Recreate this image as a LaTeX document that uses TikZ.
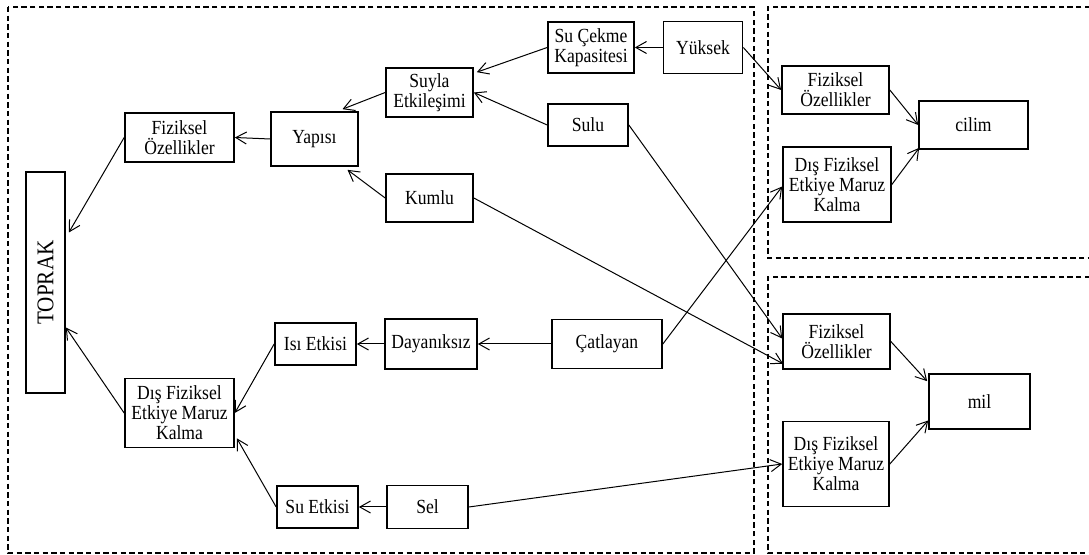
\documentclass[tikz,border=0pt]{standalone}
\usepackage{fontspec}
\setmainfont{Liberation Serif}
\newfontfamily\boxfont[FakeStretch=0.88]{Liberation Serif}
\usetikzlibrary{arrows.meta,calc}
\begin{document}
\begin{tikzpicture}[x=0.75pt,y=-0.75pt,
  wh/.style 2 args={minimum width=#1*0.75pt, minimum height=#2*0.75pt},
  box/.style={draw, line width=1.25pt, inner sep=0pt, align=center,
    font=\boxfont\fontsize{15}{15}\selectfont},
  link/.style={line width=0.75pt, -{Straight Barb[length=8pt,width=9pt]}},
  region/.style={line width=0.9pt, dash pattern=on 4pt off 2.5pt}]
\useasboundingbox (0,0) rectangle (1089,555);

% dashed regions
\draw[region] (8,7) rectangle (754,553);
\draw[region] (1090,7) -- (768,7) -- (768,258) -- (1090,258);
\draw[region] (1090,277) -- (768,277) -- (768,553) -- (1090,553);

% left region
\node[box, wh={39}{221}] (toprak) at (45.5,282.5)
  {\fontsize{18}{18}\selectfont\rotatebox{90}{TOPRAK}};
\node[box, wh={109}{49}] (fo1) at (179.5,137.5) {Fiziksel\\Özellikler};
\node[box, wh={87}{54}] (yap) at (314.5,139) {Yapısı};
\node[box, wh={87}{49}] (suy) at (429.5,92.5) {Suyla\\Etkileşimi};
\node[box, wh={87}{48}] (kum) at (429.5,198) {Kumlu};
\node[box, wh={86}{51}] (sce) at (591,47.5) {Su Çekme\\Kapasitesi};
\node[box, wh={79}{52}] (yuk) at (703,47.5) {Yüksek};
\node[box, wh={80}{42}] (sulu) at (588,125) {Sulu};

\node[box, wh={109}{69}] (dis1) at (179.5,413) {Dış Fiziksel\\Etkiye Maruz\\Kalma};
\node[box, wh={81}{42}] (isi) at (315.5,344) {Isı Etkisi};
\node[box, wh={92}{50}] (day) at (431,344) {Dayanıksız};
\node[box, wh={110}{49}] (cat) at (607,344) {Çatlayan};
\node[box, wh={81}{42}] (sue) at (317.5,507) {Su Etkisi};
\node[box, wh={81}{43}] (sel) at (427.5,507) {Sel};

% upper right region
\node[box, wh={107}{48}] (fo2) at (835.5,90) {Fiziksel\\Özellikler};
\node[box, wh={108}{75}] (dis2) at (837,184.5) {Dış Fiziksel\\Etkiye Maruz\\Kalma};
\node[box, wh={109}{48}] (cil) at (973.5,125) {cilim};

% lower right region
\node[box, wh={107}{55}] (fo3) at (836.5,341.5) {Fiziksel\\Özellikler};
\node[box, wh={106}{85}] (dis3) at (836,464) {Dış Fiziksel\\Etkiye Maruz\\Kalma};
\node[box, wh={101}{55}] (mil) at (979.5,401.5) {mil};

% connectors
\draw[link] (fo1.west) -- ($(toprak.east)+(3,-50)$);
\draw[link] (yap.west) -- (fo1.east);
\draw[link] (suy.west) -- ($(yap.north)+(28,-2)$);
\draw[link] (sce.west) -- ($(suy.north east)+(3,5)$);
\draw[link] (sulu.west) -- (suy.east);
\draw[link] (kum.west) -- ($(yap.south)+(33,3)$);
\draw[link] (yuk.west) -- (sce.east);
\draw[link] (yuk.east) -- (fo2.west);
\draw[link] (sulu.east) -- ($(fo3.west)+(0,-3)$);
\draw[link] (kum.east) -- ($(fo3.south west)+(1,-6)$);
\draw[link] (cat.east) -- ($(dis2.west)+(0,2)$);
\draw[link] (fo2.east) -- (cil.west);
\draw[link] (dis2.east) -- ($(cil.south west)+(1,-2)$);

\draw[link] (day.west) -- (isi.east);
\draw[link] (cat.west) -- (day.east);
\draw[link] (isi.west) -- (dis1.east);
\draw[link] (sue.west) -- ($(dis1.south east)+(2,-10)$);
\draw[link] (dis1.west) -- ($(toprak.east)+(0,45)$);
\draw[link] (sel.west) -- (sue.east);
\draw[link] (sel.east) -- (dis3.west);
\draw[link] (fo3.east) -- ($(mil.north west)+(-1,8)$);
\draw[link] (dis3.east) -- ($(mil.west)+(0,19)$);
\end{tikzpicture}
\end{document}
